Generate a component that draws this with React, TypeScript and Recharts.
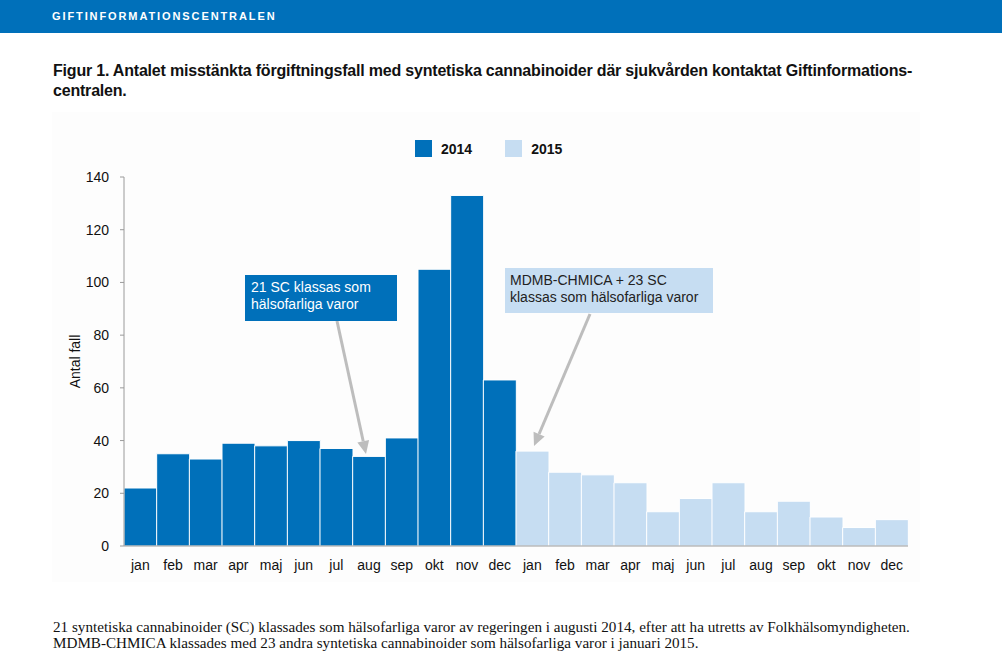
import * as React from "react";
import {Bar, BarChart, Legend, XAxis, YAxis} from "recharts";

const months = ["jan", "feb", "mar", "apr", "maj", "jun", "jul", "aug", "sep", "okt", "nov", "dec"];
const cases2014 = [22, 35, 33, 39, 38, 40, 37, 34, 41, 105, 133, 63];
const cases2015 = [36, 28, 27, 24, 13, 18, 24, 13, 17, 11, 7, 10];
const yTicks = [0, 20, 40, 60, 80, 100, 120, 140];

const DARK = "#0070BA";
const LIGHT = "#C6DDF2";
const SANS = "'Liberation Sans', Arial, Helvetica, sans-serif";

// en rad per månad, två år efter varandra
const data = [
  ...months.map((m, i) => ({key: `2014-${m}`, y2014: cases2014[i], y2015: null})),
  ...months.map((m, i) => ({key: `2015-${m}`, y2014: null, y2015: cases2015[i]})),
];

const LegendContent = (props: any) => {
  const items = props.payload || [];
  return (
    <div style={{display: "flex", fontFamily: SANS, fontWeight: "bold", fontSize: 14, color: "#111"}}>
      {items.map((it: any, i: number) => (
        <div key={i} style={{display: "flex", alignItems: "center", marginRight: 33}}>
          <span style={{display: "inline-block", width: 17, height: 17, background: it.color, marginRight: 9}} />
          <span>{it.value}</span>
        </div>
      ))}
    </div>
  );
};

const Arrow = ({x1, y1, x2, y2}: {x1: number; y1: number; x2: number; y2: number}) => {
  const a = Math.atan2(y2 - y1, x2 - x1);
  const len = 13, w = 6;
  const bx = x2 - len * Math.cos(a), by = y2 - len * Math.sin(a);
  const px = -Math.sin(a) * w, py = Math.cos(a) * w;
  return (
    <g>
      <line x1={x1} y1={y1} x2={bx} y2={by} stroke="#BDBDBD" strokeWidth={3} />
      <polygon points={`${x2},${y2} ${bx + px},${by + py} ${bx - px},${by - py}`} fill="#BDBDBD" />
    </g>
  );
};

export default function App() {
  return (
    <div style={{position: "absolute", left: 0, top: 0, width: 1002, height: 667, background: "#fff", overflow: "hidden"}}>
      <div style={{position: "absolute", left: 0, top: 0, width: 1002, height: 33, background: DARK}} />
      <div style={{position: "absolute", left: 52, top: 10, color: "#fff", fontFamily: SANS, fontWeight: "bold", fontSize: 11, letterSpacing: 1.9}}>
        GIFTINFORMATIONSCENTRALEN
      </div>
      <div style={{position: "absolute", left: 53, top: 61, fontFamily: SANS, fontWeight: "bold", fontSize: 16, letterSpacing: -0.2, lineHeight: "20px", color: "#111", whiteSpace: "nowrap"}}>
        Figur 1. Antalet misstänkta förgiftningsfall med syntetiska cannabinoider där sjukvården kontaktat Giftinformations-
        <br />
        centralen.
      </div>
      <div style={{position: "absolute", left: 52, top: 112, width: 868, height: 470, background: "#FDFDFD"}} />

      <div style={{position: "absolute", left: 0, top: 0}}>
        <BarChart width={1002} height={667} data={data} margin={{top: 177, right: 94, bottom: 91, left: 0}} barCategoryGap={0}>
          <XAxis
            dataKey="key"
            height={30}
            interval={0}
            tickLine={false}
            tickSize={0}
            tickMargin={14}
            stroke="#9A9A9A"
            tick={{fill: "#111", fontSize: 14, fontFamily: SANS}}
            tickFormatter={(v: string) => v.split("-")[1]}
          />
          <YAxis
            width={124}
            domain={[0, 140]}
            ticks={yTicks}
            tickSize={4}
            tickMargin={11}
            stroke="#9A9A9A"
            tick={{fill: "#111", fontSize: 14, fontFamily: SANS}}
            label={{value: "Antal fall", angle: -90, position: "insideLeft", offset: 75, style: {fill: "#111", fontSize: 14, fontFamily: SANS, textAnchor: "middle"}}}
          />
          <Legend
            layout="horizontal"
            verticalAlign="middle"
            align="center"
            content={<LegendContent />}
            wrapperStyle={{top: 140, left: 415, width: 220, height: 17}}
          />
          <Bar dataKey="y2014" name="2014" stackId="a" fill={DARK} stroke="#fff" strokeWidth={1} isAnimationActive={false} />
          <Bar dataKey="y2015" name="2015" stackId="a" fill={LIGHT} stroke="#fff" strokeWidth={1} isAnimationActive={false} />
        </BarChart>
      </div>

      <svg style={{position: "absolute", left: 0, top: 0}} width={1002} height={667}>
        <Arrow x1={337} y1={321} x2={366} y2={454} />
        <Arrow x1={590} y1={314} x2={534} y2={446} />
        <rect x={245} y={275} width={152} height={46} fill={DARK} />
        <text x={251} y={292} fill="#fff" fontSize={14} fontFamily={SANS}>21 SC klassas som</text>
        <text x={251} y={309} fill="#fff" fontSize={14} fontFamily={SANS}>hälsofarliga varor</text>
        <rect x={505} y={268} width={208} height={45} fill={LIGHT} />
        <text x={510} y={285} fill="#222" fontSize={14} fontFamily={SANS}>MDMB-CHMICA + 23 SC</text>
        <text x={510} y={302} fill="#222" fontSize={14} fontFamily={SANS}>klassas som hälsofarliga varor</text>
      </svg>

      <div style={{position: "absolute", left: 53, top: 619, fontFamily: "'Liberation Serif', 'Times New Roman', serif", fontSize: 15.15, lineHeight: "16px", color: "#111", whiteSpace: "nowrap"}}>
        21 syntetiska cannabinoider (SC) klassades som hälsofarliga varor av regeringen i augusti 2014, efter att ha utretts av Folkhälsomyndigheten.
        <br />
        MDMB-CHMICA klassades med 23 andra syntetiska cannabinoider som hälsofarliga varor i januari 2015.
      </div>
    </div>
  );
}
